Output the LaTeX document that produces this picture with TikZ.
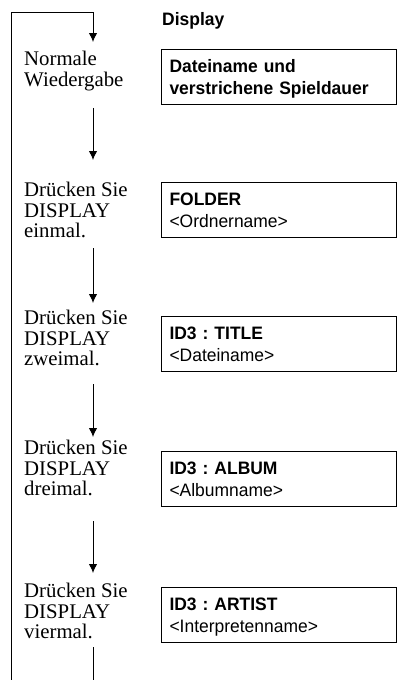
\documentclass[tikz,border=0pt]{standalone}
\usepackage{fontspec}
\setmainfont{Liberation Serif}
\newfontfamily\dispfont[FakeStretch=0.97]{Liberation Sans}
\usetikzlibrary{arrows.meta}
\frenchspacing

\tikzset{
  keylabel/.style={anchor=north west, inner sep=0pt, align=left,
    font=\fontsize{20.8}{20.5}\selectfont},
  screen/.style={draw, line width=1pt, anchor=north west, text width=219pt,
    inner xsep=8pt, inner ysep=8pt, text height=15pt, text depth=24pt,
    align=left, font=\dispfont\fontsize{18}{21.5}\selectfont},
  flow/.style={line width=1pt, -{Latex[length=9pt,width=8.5pt]}},
}

\begin{document}
\begin{tikzpicture}[x=1pt,y=-1pt]
  \useasboundingbox (0,0) rectangle (397,680);
  \clip (0,0) rectangle (397,680);

  % key presses
  \node[keylabel] (normal) at (24,51) {Normale\\Wiedergabe};
  \node[keylabel] (once) at (24,182) {Drücken Sie\\DISPLAY\\einmal.};
  \node[keylabel] (twice) at (24,310) {Drücken Sie\\DISPLAY\\zweimal.};
  \node[keylabel] (thrice) at (24,440) {Drücken Sie\\DISPLAY\\dreimal.};
  \node[keylabel] (four) at (24,583) {Drücken Sie\\DISPLAY\\viermal.};

  \coordinate (colx) at (93,0);
  \coordinate (topleft) at (11,12);
  \coordinate (back) at (11,690);

  % display contents
  \node[anchor=base west, inner sep=0pt,
    font=\dispfont\bfseries\fontsize{18}{21.5}\selectfont] (display) at (162,25) {Display};
  \node[screen] (scr0) at (161,49) {\textbf{Dateiname und}\\\textbf{verstrichene Spieldauer}};
  \node[screen] (scr1) at (161,182) {\textbf{FOLDER}\\<Ordnername>};
  \node[screen] (scr2) at (161,316) {\textbf{ID3 : TITLE}\\<Dateiname>};
  \node[screen] (scr3) at (161,451) {\textbf{ID3 : ALBUM}\\<Albumname>};
  \node[screen] (scr4) at (161,587) {\textbf{ID3 : ARTIST}\\<Interpretenname>};

  % arrows
  \draw[flow, shorten <=17pt, shorten >=22pt] (normal.south -| colx) -- (once.north -| colx);
  \draw[flow, shorten <=10pt, shorten >=7pt] (once.south -| colx) -- (twice.north -| colx);
  \draw[flow, shorten <=18pt, shorten >=3pt] (twice.south -| colx) -- (thrice.north -| colx);
  \draw[flow, shorten <=25pt, shorten >=10pt] (thrice.south -| colx) -- (four.north -| colx);
  \draw[flow, shorten <=8pt, shorten >=9pt] (four.south -| colx) |- (back) -- (topleft) -| (normal.north -| colx);
\end{tikzpicture}
\end{document}
